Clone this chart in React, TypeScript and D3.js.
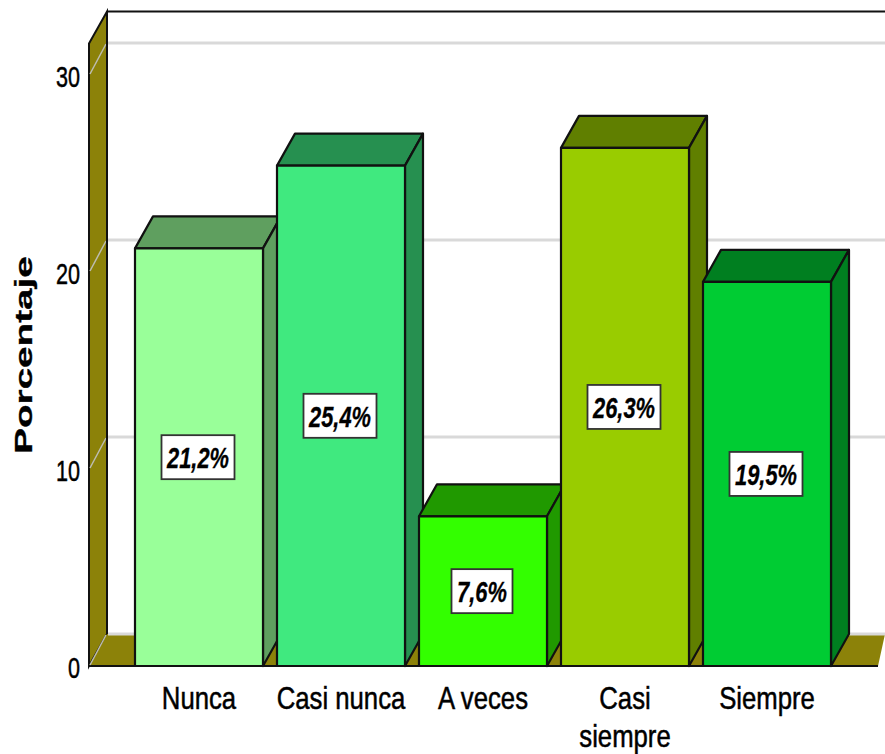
import React from "react";
import * as d3 from "d3";

const categories = ["Nunca", "Casi nunca", "A veces", "Casi siempre", "Siempre"];
const percentages = [21.2, 25.4, 7.6, 26.3, 19.5];
const valueLabels = ["21,2%", "25,4%", "7,6%", "26,3%", "19,5%"];
const frontColors = ["#99ff99", "#40e97f", "#33ff00", "#99cc00", "#00cc33"];
const shadeColors = ["#5f9f5f", "#269050", "#209900", "#607f00", "#007f20"];
const yTicks = [0, 10, 20, 30];
const yTop = 31.6;

const WALL = "#8c8209";
const GRID = "#d9d9d9";
const EDGE = "#111";

// Depth of the 3D box, in pixels
const depthX = 18;
const depthY = 32;

const y = d3.scaleLinear().domain([0, 30]).range([666, 75]);
const x = d3.scaleBand<string>().domain(categories).range([128, 838]).paddingInner(14 / 142).paddingOuter(7 / 142);

const FONT = "'Liberation Sans', Arial, sans-serif";

function Squeezed(props: {
  x: number; y: number; size: number; sx: number; rotate?: number; weight?: string; italic?: boolean; anchor?: string; heavy?: number; children: string;
}) {
  const { x: px, y: py, size, sx, rotate = 0, weight = "normal", italic = false, anchor = "middle", heavy = 0.5, children } = props;
  return (
    <text
      transform={`translate(${px},${py}) rotate(${rotate}) scale(${sx},1)`}
      fontFamily={FONT}
      fontSize={size}
      fontWeight={weight}
      fontStyle={italic ? "italic" : "normal"}
      textAnchor={anchor}
      fill="#000"
      stroke="#000"
      strokeWidth={heavy}
    >
      {children}
    </text>
  );
}

const pts = (p: [number, number][]) => p.map((d) => d.join(",")).join(" ");

export default function App() {
  const wallX = 89;
  const floorRight = 867;
  const top = y(yTop);
  const base = y(0);
  return (
    <svg width={885} height={754} style={{ position: "absolute", left: 0, top: 0, background: "#fff" }}>
      {/* back frame */}
      <line x1={wallX + depthX} x2={885} y1={top - depthY} y2={top - depthY} stroke={EDGE} strokeWidth={2} />
      {/* left wall */}
      <polygon
        points={pts([[wallX, top], [wallX + depthX, top - depthY], [wallX + depthX, base - depthY], [wallX, base]])}
        fill={WALL}
        stroke={EDGE}
        strokeWidth={2}
      />
      {/* floor */}
      <polygon
        points={pts([[wallX, base], [wallX + depthX, base - depthY], [floorRight + depthX, base - depthY], [floorRight + 11, base]])}
        fill={WALL}
      />
      <line x1={wallX} x2={floorRight + 11} y1={base} y2={base} stroke={EDGE} strokeWidth={2} />
      {/* grid lines on the back plane and across the wall */}
      {yTicks.map((t) => (
        <g key={t}>
          <line x1={wallX + depthX + 1} x2={885} y1={y(t) - depthY} y2={y(t) - depthY} stroke={GRID} strokeWidth={3} />
          <line x1={wallX + 1} x2={wallX + depthX - 1} y1={y(t) - 1} y2={y(t) - depthY + 1} stroke="#bdbdb0" strokeWidth={1.5} />
        </g>
      ))}
      <line x1={wallX + depthX} x2={wallX + depthX} y1={top - depthY} y2={base - depthY} stroke={EDGE} strokeWidth={2} />

      {/* bars, left to right */}
      {categories.map((c, i) => {
        const x0 = x(c)!;
        const x1 = x0 + x.bandwidth();
        const yv = y(percentages[i]);
        return (
          <g key={c} stroke={EDGE} strokeWidth={2.2} strokeLinejoin="round">
            <polygon
              points={pts([[x0, yv], [x0 + depthX, yv - depthY], [x1 + depthX, yv - depthY], [x1, yv]])}
              fill={shadeColors[i]}
            />
            <polygon
              points={pts([[x1, yv], [x1 + depthX, yv - depthY], [x1 + depthX, base - depthY], [x1, base]])}
              fill={shadeColors[i]}
            />
            <rect x={x0} y={yv} width={x.bandwidth()} height={base - yv} fill={frontColors[i]} />
          </g>
        );
      })}

      {/* value labels at the middle of each bar */}
      {categories.map((c, i) => {
        const cx = x(c)! + x.bandwidth() / 2;
        const cy = (y(percentages[i]) + base) / 2;
        const w = valueLabels[i].length === 4 ? 61 : 73;
        return (
          <g key={c + "-label"}>
            <rect x={cx - w / 2 - 1} y={cy - 22} width={w} height={44} fill="#fff" stroke="#333" strokeWidth={1.8} />
            <Squeezed x={cx - 1} y={cy + 11} size={30} sx={0.73} weight="bold" italic heavy={0.3}>
              {valueLabels[i]}
            </Squeezed>
          </g>
        );
      })}

      {/* value axis */}
      {yTicks.map((t) => (
        <Squeezed key={t} x={80} y={y(t) + 12} size={30} sx={0.72} anchor="end">
          {String(t)}
        </Squeezed>
      ))}
      <Squeezed x={32} y={355} size={23} sx={1.68} rotate={-90} weight="bold" heavy={0.3}>
        Porcentaje
      </Squeezed>

      {/* category axis, long names wrap onto two lines */}
      {categories.map((c, i) => {
        const cx = x(c)! + x.bandwidth() / 2;
        const lines = c === "Casi siempre" ? ["Casi", "siempre"] : [c];
        return lines.map((l, k) => (
          <Squeezed key={l} x={cx} y={709 + k * 38} size={31} sx={0.83}>
            {l}
          </Squeezed>
        ));
      })}
    </svg>
  );
}
